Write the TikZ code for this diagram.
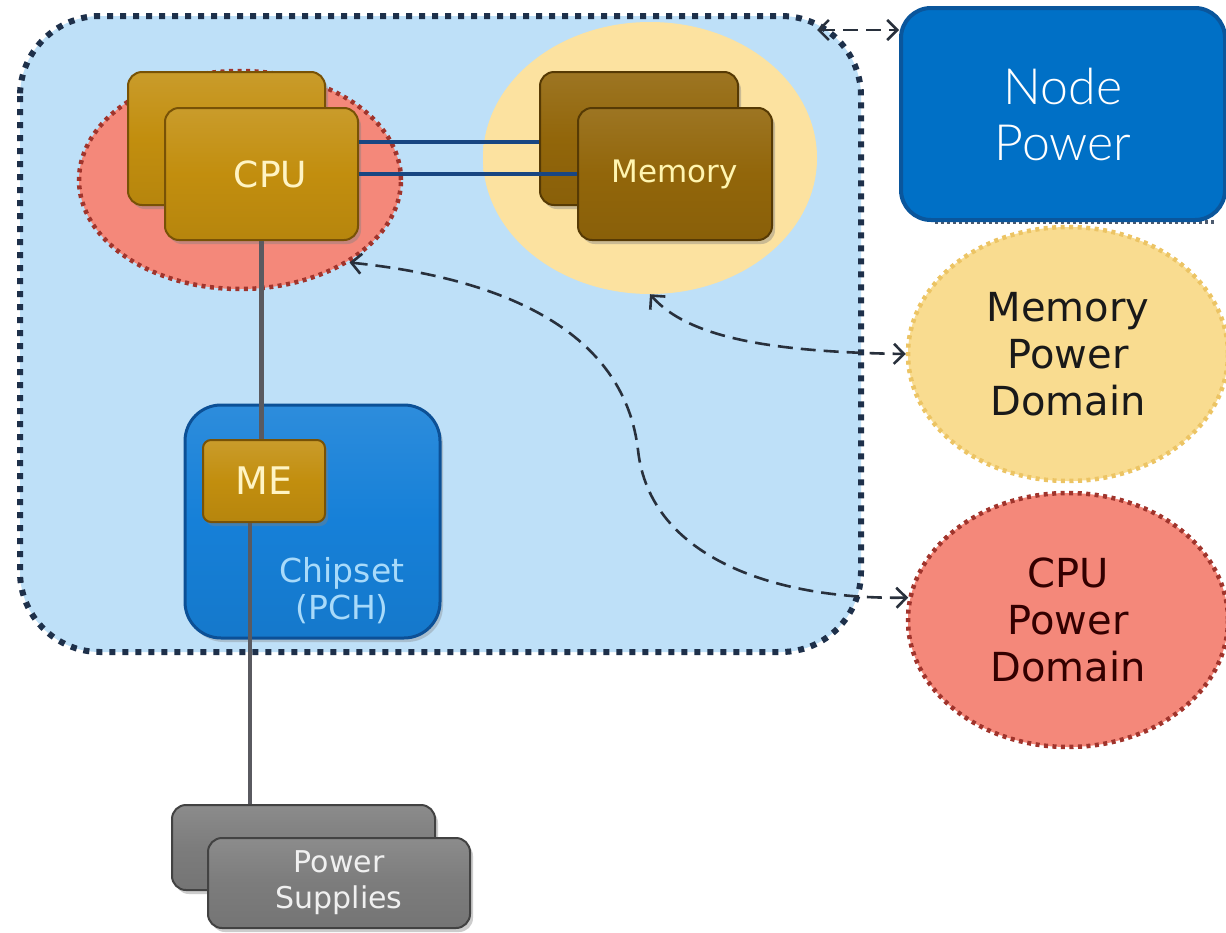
\documentclass[tikz,border=0pt]{standalone}
\usepackage{fontspec}
\setmainfont{DejaVu Sans}
\newfontfamily\npfont{Lato Light}
\usetikzlibrary{arrows.meta,shapes.geometric,shadows}
\definecolor{bgblue}{RGB}{190,224,248}
\definecolor{navy}{RGB}{30,48,74}
\definecolor{salmon}{RGB}{244,136,122}
\definecolor{darkred}{RGB}{160,52,44}
\definecolor{memY}{RGB}{252,226,160}
\definecolor{gold}{RGB}{194,142,14}
\definecolor{golddark}{RGB}{120,82,6}
\definecolor{brown}{RGB}{146,102,10}
\definecolor{browndark}{RGB}{86,58,4}
\definecolor{chipblue}{RGB}{22,128,216}
\definecolor{chipdark}{RGB}{12,80,150}
\definecolor{chiptext}{RGB}{168,218,250}
\definecolor{psgray}{RGB}{124,124,124}
\definecolor{psdark}{RGB}{66,66,66}
\definecolor{npblue}{RGB}{0,112,198}
\definecolor{npdark}{RGB}{10,86,156}
\definecolor{mdY}{RGB}{249,220,144}
\definecolor{mdYdark}{RGB}{236,196,100}
\definecolor{cream}{RGB}{255,244,196}
\definecolor{busblue}{RGB}{24,70,130}
\definecolor{wiregray}{RGB}{90,90,96}
\definecolor{arrowc}{RGB}{40,48,60}
\pgfdeclareradialshading{memglow}{\pgfpoint{0bp}{0bp}}{color(0bp)=(memY); color(28bp)=(memY); color(50bp)=(bgblue)}
\begin{document}
\begin{tikzpicture}[x=1pt,y=-1pt,
  region/.style={fill=bgblue, draw=navy, line width=6pt, dash pattern=on 6pt off 7pt, rounded corners=80pt},
  cpuell/.style={ellipse, fill=salmon, draw=darkred, line width=4.5pt, dash pattern=on 4pt off 4.5pt, minimum width=322pt, minimum height=218pt},
  chip/.style={rounded corners=14pt, line width=2pt, drop shadow={shadow xshift=3pt, shadow yshift=-4pt, opacity=0.4}},
  goldbox/.style={chip, top color=gold!88!white, bottom color=gold!94!black, middle color=gold, draw=golddark},
  brownbox/.style={chip, top color=brown!90!white, bottom color=brown!94!black, middle color=brown, draw=browndark},
  graybox/.style={chip, top color=psgray!88!white, bottom color=psgray!94!black, middle color=psgray, draw=psdark},
  bus/.style={draw=busblue, line width=4pt},
  wire/.style={draw=wiregray, line width=4.5pt},
  darr/.style={draw=arrowc, line width=2.6pt, dash pattern=on 15pt off 8pt, {Straight Barb[length=10pt,width=20pt]}-{Straight Barb[length=10pt,width=20pt]}},
  pdomain/.style={ellipse, minimum width=320pt, minimum height=254pt, line width=4.5pt, dash pattern=on 4pt off 4.5pt, align=center, font=\fontsize{40}{47}\selectfont}
]
\useasboundingbox (0,0) rectangle (1226,932);
\fill[white] (0,0) rectangle (1226,932);

% main region
\draw[region] (20,16) rectangle (861,652);

% power domain ellipses inside
\node[cpuell] (cpudom) at (240,180) {};
\node[ellipse, minimum width=334pt, minimum height=272pt, shading=memglow] (memglow) at (650,158) {};

% CPU boxes
\node[goldbox, minimum width=197pt, minimum height=133pt] (cpuback) at (226.5,138.5) {};
\node[goldbox, minimum width=193pt, minimum height=132pt, text=cream, font=\fontsize{36}{40}\selectfont] (cpu) at (261.5,174) {\hspace*{18pt}CPU};

% Memory boxes
\node[brownbox, minimum width=198pt, minimum height=133pt] (memback) at (639,138.5) {};
\node[brownbox, minimum width=194pt, minimum height=132pt, text=cream!90!yellow, font=\fontsize{31}{34}\selectfont] (mem) at (675,174) {Memory};

% buses
\draw[bus] ([yshift=32pt]cpu.east) -- ([yshift=32pt]cpu.east -| memback.west);
\draw[bus] (cpu.east) -- (mem.west);

% Chipset
\node[top color=chipblue!90!white, bottom color=chipblue!94!black, middle color=chipblue, draw=chipdark, line width=3pt, rounded corners=36pt, minimum width=255pt, minimum height=233pt, drop shadow={shadow xshift=3pt, shadow yshift=-4pt, opacity=0.35}] (chipset) at (312.5,521.5) {};
\node[text=chiptext, align=center, font=\fontsize{33}{37}\selectfont] (chiplabel) at (342,591) {Chipset\\(PCH)};
\node[goldbox, rounded corners=8pt, minimum width=122pt, minimum height=82pt, text=cream, font=\fontsize{38}{40}\selectfont] (me) at (264,481) {ME};

% Power supplies
\node[graybox, minimum width=263pt, minimum height=85pt] (psback) at (303.5,847.5) {};
\node[graybox, minimum width=262pt, minimum height=90pt, text=white!88!gray, align=center, font=\fontsize{30}{36}\selectfont] (ps) at (339,883) {Power\\Supplies};

% wires
\draw[wire] (cpu.south) -- (cpu.south |- me.north);
\draw[wire] ([xshift=-14pt]me.south) -- ([xshift=-14pt]me.south |- psback.north);

% Node power
\draw[navy!80, line width=4pt, dash pattern=on 3pt off 3pt] (935,222) -- (1215,222);
\node[fill=npblue, draw=npdark, line width=4pt, rounded corners=30pt, minimum width=324pt, minimum height=212pt, text=white, align=center, font=\npfont\fontsize{50}{56}\selectfont] (np) at (1063,114) {Node\\Power};

% domains
\node[pdomain, fill=mdY, draw=mdYdark, text=black!90] (memdom) at (1068,354) {Memory\\Power\\Domain};
\node[pdomain, fill=salmon, draw=darkred, text=black!80!red] (cpupd) at (1068,620) {CPU\\Power\\Domain};

% arrows
\coordinate (regtr) at (817,30);
\draw[darr] (regtr) -- (regtr -| np.west);
\draw[darr] (memglow.south) .. controls (690,340) and (780,352) .. (memdom.west);
\draw[darr] (cpudom.-37) .. controls (520,280) and (625,340) .. (638,450) .. controls (650,560) and (780,600) .. (cpupd.172);
\end{tikzpicture}
\end{document}
